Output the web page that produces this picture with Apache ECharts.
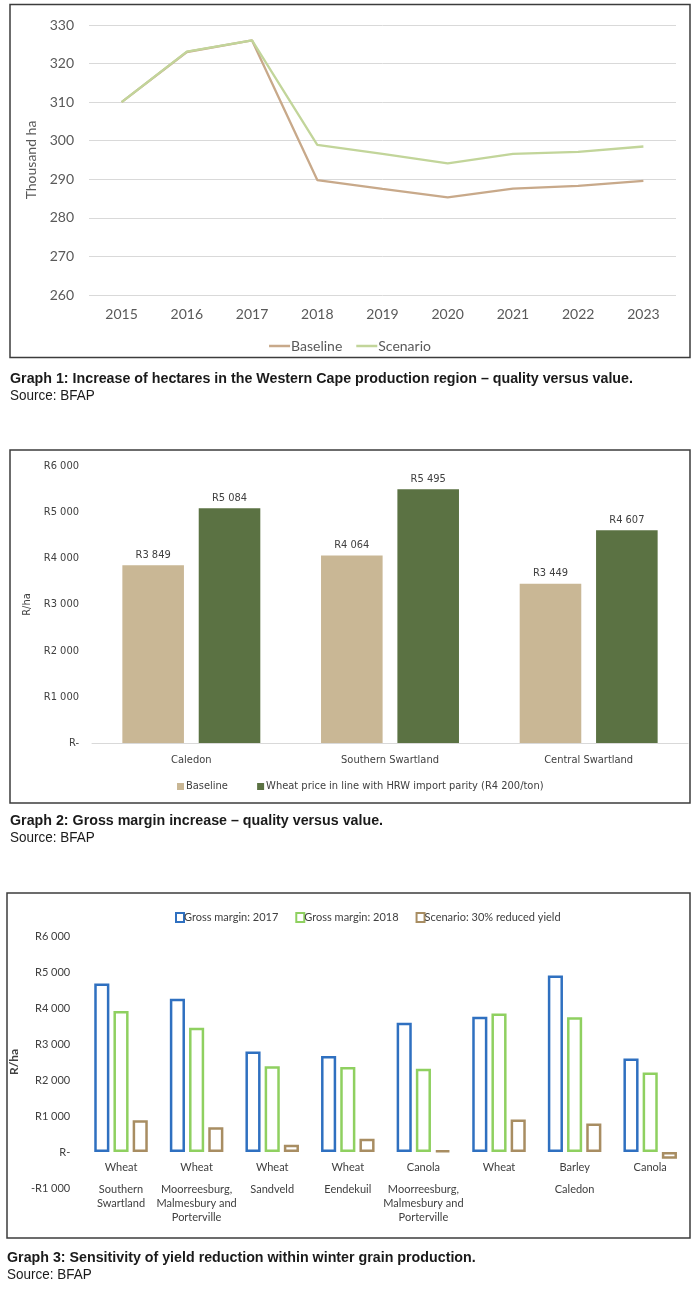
<!DOCTYPE html>
<html><head><meta charset="utf-8">
<script src="https://cdn.jsdelivr.net/npm/echarts@6/dist/echarts.min.js"></script>
<style>html,body{margin:0;padding:0;background:#fff}#c{width:700px;height:1289px}</style>
</head><body><div id="c"></div>
<script>
// ---- Graph 1 data ----
const years = ['2015','2016','2017','2018','2019','2020','2021','2022','2023'];
const baselineHa = [310, 323, 326, 289.8, 287.5, 285.3, 287.6, 288.3, 289.6];
const scenarioHa = [310, 323.1, 326, 298.9, 296.6, 294.1, 296.6, 297.1, 298.5];

// ---- Graph 2 data ----
const regions2 = ['Caledon', 'Southern Swartland', 'Central Swartland'];
const baseline2 = [3849, 4064, 3449];
const hrwParity2 = [5084, 5495, 4607];

// ---- Graph 3 data ----
const crops3 = ['Wheat','Wheat','Wheat','Wheat','Canola','Wheat','Barley','Canola'];
const areas3 = ['Southern\nSwartland','Moorreesburg,\nMalmesbury and\nPorterville','Sandveld','Eendekuil','Moorreesburg,\nMalmesbury and\nPorterville','','Caledon',''];
const gm2017 = [4680, 4260, 2790, 2670, 3590, 3760, 4900, 2600];
const gm2018 = [3920, 3450, 2380, 2360, 2310, 3850, 3740, 2210];
const reducedYield = [880, 690, 200, 370, 40, 900, 790, -190];

const captions = [
  'Graph 1: Increase of hectares in the Western Cape production region \u2013 quality versus value.',
  'Graph 2: Gross margin increase \u2013 quality versus value.',
  'Graph 3: Sensitivity of yield reduction within winter grain production.'
];
const sourceText = 'Source: BFAP';

function rand(v) {
  if (v === 0) return 'R-';
  const neg = v < 0; const a = Math.abs(v);
  const s = String(Math.round(a)).replace(/\B(?=(\d{3})+(?!\d))/g, ' ');
  return (neg ? '-' : '') + 'R' + s;
}

const F1 = 'Lato, "Open Sans", sans-serif';
const F2 = '"DejaVu Sans Condensed", sans-serif';
const F3 = 'Lato, "Open Sans", sans-serif';
const FC = '"Liberation Sans", Arial, sans-serif';
const C1 = '#595959';

const chart = echarts.init(document.getElementById('c'), null, {renderer: 'canvas'});

const c3 = {blue: '#2f70c0', green: '#8fd060', brown: '#a88d62'};
const g3Height = 252, g3Min = -1000, g3Max = 6000;

function capText(x, y, txt, bold) {
  return {type: 'text', x: x, y: y, scaleX: bold ? 0.95 : 0.87, scaleY: 1,
    style: {text: txt, font: (bold ? 'bold 15px ' : '15.5px ') + FC, fill: '#1a1a1a', textVerticalAlign: 'middle'}};
}

const option = {
  backgroundColor: '#fff',
  animation: false,
  legend: [
    {
      data: ['Baseline', 'Scenario'],
      left: 'center', top: 334,
      icon: 'rect', itemWidth: 21, itemHeight: 2.5, itemGap: 14,
      textStyle: {fontFamily: F1, fontSize: 14, color: C1, padding: [0,0,0,-4]}
    },
    {
      data: ['Baseline ', 'Wheat price in line with HRW import parity (R4 200/ton)'],
      left: 172, top: 776,
      icon: 'rect', itemWidth: 7, itemHeight: 7, itemGap: 26,
      textStyle: {fontFamily: F2, fontSize: 11, color: '#404040', padding: [0,0,0,-3]}
    },
    {
      data: [
        {name: 'Gross margin: 2017', itemStyle: {color: '#fff', borderColor: c3.blue, borderWidth: 2}},
        {name: 'Gross margin: 2018', itemStyle: {color: '#fff', borderColor: c3.green, borderWidth: 2}},
        {name: 'Scenario: 30% reduced yield', itemStyle: {color: '#fff', borderColor: c3.brown, borderWidth: 2}}
      ],
      left: 170, top: 907,
      icon: 'rect', itemWidth: 8, itemHeight: 9, itemGap: 17,
      textStyle: {fontFamily: F3, fontSize: 11, color: '#404040', padding: [0,0,0,-5]}
    }
  ],
  grid: [
    {left: 89, right: 24, top: 25, height: 270},
    {left: 92, right: 12, top: 466, height: 277},
    {left: 81, right: 12, top: 936, height: g3Height}
  ],
  xAxis: [
    {
      gridIndex: 0, type: 'category', data: years, boundaryGap: true,
      axisLine: {show: false}, axisTick: {show: false},
      axisLabel: {fontFamily: F1, fontSize: 14, color: C1, margin: 12}
    },
    {
      gridIndex: 1, type: 'category', data: regions2,
      axisLine: {show: true, lineStyle: {color: '#d9d9d9', width: 1}}, axisTick: {show: false},
      axisLabel: {fontFamily: F2, fontSize: 11, color: '#404040', margin: 12}
    },
    {
      gridIndex: 2, type: 'category', data: crops3.map((c, i) => c + '\n' + areas3[i]),
      axisLine: {show: false, onZero: false}, axisTick: {show: false},
      offset: -g3Height * (0 - g3Min) / (g3Max - g3Min),
      axisLabel: {
        margin: 0, interval: 0,
        formatter: function (v, i) {
          let s = '{a|' + crops3[i] + '}';
          if (areas3[i]) s += '\n' + areas3[i].split('\n').map(l => '{b|' + l + '}').join('\n');
          return s;
        },
        rich: {
          a: {fontFamily: F3, fontSize: 11, color: '#404040', lineHeight: 30},
          b: {fontFamily: F3, fontSize: 11, color: '#404040', lineHeight: 14}
        }
      }
    }
  ],
  yAxis: [
    {
      gridIndex: 0, type: 'value', min: 260, max: 330, interval: 10,
      splitLine: {lineStyle: {color: '#d9d9d9', width: 1}},
      axisLine: {show: false}, axisTick: {show: false},
      axisLabel: {fontFamily: F1, fontSize: 14, color: C1, margin: 15},
      name: 'Thousand ha', nameLocation: 'middle', nameGap: 42, nameRotate: 90,
      nameTextStyle: {fontFamily: F1, fontSize: 14, color: C1}
    },
    {
      gridIndex: 1, type: 'value', min: 0, max: 6000, interval: 1000,
      splitLine: {show: false}, axisLine: {show: false}, axisTick: {show: false},
      axisLabel: {fontFamily: F2, fontSize: 11, color: '#404040', margin: 13, formatter: rand},
      name: 'R/ha', nameLocation: 'middle', nameGap: 49, nameRotate: 90,
      nameTextStyle: {fontFamily: F2, fontSize: 11, color: '#404040'}
    },
    {
      gridIndex: 2, type: 'value', min: g3Min, max: g3Max, interval: 1000,
      splitLine: {show: false}, axisLine: {show: false}, axisTick: {show: false},
      axisLabel: {fontFamily: F3, fontSize: 11, color: '#404040', margin: 13, formatter: rand},
      name: 'R/ha', nameLocation: 'middle', nameGap: 51, nameRotate: 90,
      nameTextStyle: {fontFamily: F3, fontSize: 12, fontWeight: 'bold', color: '#404040'}
    }
  ],
  series: [
    {name: 'Baseline', type: 'line', xAxisIndex: 0, yAxisIndex: 0, data: baselineHa,
      symbol: 'none', lineStyle: {color: '#c8a98a', width: 2.3}, itemStyle: {color: '#c8a98a'}, z: 2},
    {name: 'Scenario', type: 'line', xAxisIndex: 0, yAxisIndex: 0, data: scenarioHa,
      symbol: 'none', lineStyle: {color: '#c2d59a', width: 2.3}, itemStyle: {color: '#c2d59a'}, z: 3},

    {name: 'Baseline ', type: 'bar', xAxisIndex: 1, yAxisIndex: 1, data: baseline2,
      barWidth: '31%', barGap: '24%', itemStyle: {color: '#c9b795'},
      label: {show: true, position: 'top', distance: 5, fontFamily: F2, fontSize: 11, color: '#404040', formatter: p => rand(p.value)}},
    {name: 'Wheat price in line with HRW import parity (R4 200/ton)', type: 'bar', xAxisIndex: 1, yAxisIndex: 1, data: hrwParity2,
      barWidth: '31%', barGap: '24%', itemStyle: {color: '#5b7243'},
      label: {show: true, position: 'top', distance: 5, fontFamily: F2, fontSize: 11, color: '#404040', formatter: p => rand(p.value)}},

    {name: 'Gross margin: 2017', type: 'bar', xAxisIndex: 2, yAxisIndex: 2, data: gm2017,
      barWidth: '20%', barGap: '27%', itemStyle: {color: '#fff', borderColor: c3.blue, borderWidth: 2.5}},
    {name: 'Gross margin: 2018', type: 'bar', xAxisIndex: 2, yAxisIndex: 2, data: gm2018,
      barWidth: '20%', barGap: '27%', itemStyle: {color: '#fff', borderColor: c3.green, borderWidth: 2.5}},
    {name: 'Scenario: 30% reduced yield', type: 'bar', xAxisIndex: 2, yAxisIndex: 2, data: reducedYield,
      barWidth: '20%', barGap: '27%', itemStyle: {color: '#fff', borderColor: c3.brown, borderWidth: 2.5}}
  ],
  graphic: [
    {type: 'rect', shape: {x: 10, y: 4.5, width: 680, height: 353}, style: {fill: 'none', stroke: '#3c3c3c', lineWidth: 1.5}, silent: true},
    {type: 'rect', shape: {x: 10, y: 450, width: 680, height: 353}, style: {fill: 'none', stroke: '#3c3c3c', lineWidth: 1.5}, silent: true},
    {type: 'rect', shape: {x: 7, y: 893, width: 683, height: 345}, style: {fill: 'none', stroke: '#3c3c3c', lineWidth: 1.5}, silent: true},
    capText(10, 379, captions[0], true),
    capText(10, 396, sourceText, false),
    capText(10, 821, captions[1], true),
    capText(10, 838, sourceText, false),
    capText(7, 1258, captions[2], true),
    capText(7, 1275, sourceText, false)
  ]
};
chart.setOption(option);
</script>
</body></html>
